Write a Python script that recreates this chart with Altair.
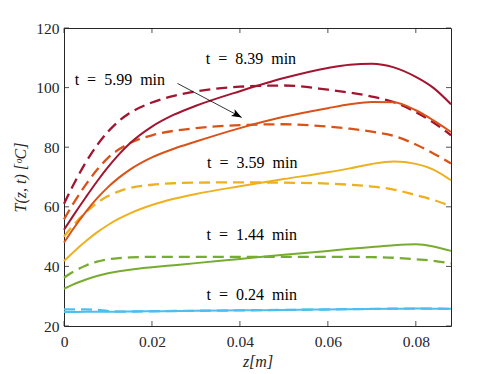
import altair as alt
import pandas as pd

# ---------------- data ----------------
Z = [0, 0.002, 0.005, 0.0075, 0.01, 0.0125, 0.015, 0.02, 0.025, 0.03, 0.04,
     0.05, 0.06, 0.065, 0.07, 0.075, 0.08, 0.084, 0.088]

SERIES = ["0.24", "1.44", "3.59", "5.99", "8.39"]
COLORS = ["#4DBEEE", "#77AC30", "#EDB120", "#D95319", "#A2142F"]

SOLID_024 = [24.7, 24.72, 24.75, 24.78, 24.8, 24.83, 24.86, 24.95, 25.03, 25.1,
             25.25, 25.4, 25.55, 25.65, 25.72, 25.8, 25.85, 25.82, 25.75]
DASHED_024 = [25.6, 25.6, 25.55, 25.4, 25.0, 24.83, 24.86, 24.95, 25.03, 25.1,
              25.25, 25.4, 25.55, 25.65, 25.72, 25.8, 25.85, 25.82, 25.75]

SOLID_144 = [32.5, 33.9, 35.6, 36.8, 37.7, 38.4, 38.9, 39.7, 40.4, 41.1,
             42.5, 43.9, 45.2, 45.9, 46.5, 47.1, 47.4, 46.7, 45.2]
DASHED_144 = [36.2, 38.1, 40.3, 41.6, 42.4, 42.8, 43.0, 43.2, 43.2, 43.2,
              43.2, 43.2, 43.2, 43.2, 43.1, 42.9, 42.4, 41.9, 41.0]

SOLID_359 = [41.8, 44.6, 48.5, 51.4, 53.9, 56.0, 57.8, 60.6, 62.7, 64.3,
             66.9, 69.3, 71.6, 72.9, 74.4, 75.2, 74.4, 72.5, 68.9]
DASHED_359 = [50.0, 53.6, 58.2, 61.3, 63.6, 65.2, 66.3, 67.4, 67.9, 68.1,
              68.2, 68.1, 67.8, 67.4, 66.8, 65.8, 63.9, 62.3, 60.2]

SOLID_599 = [48.0, 52.4, 58.4, 62.8, 66.6, 69.8, 72.5, 76.6, 79.5, 81.9,
             86.4, 90.2, 93.1, 94.4, 95.2, 95.1, 92.4, 89.0, 85.1]
DASHED_599 = [55.8, 60.8, 67.5, 72.4, 76.4, 79.3, 81.4, 84.0, 85.5, 86.4,
              87.4, 87.7, 86.9, 86.2, 85.2, 83.8, 80.9, 77.9, 74.5]

SOLID_839 = [52.3, 56.8, 63.3, 68.5, 73.3, 77.6, 81.3, 86.9, 90.9, 93.9,
             98.8, 103.2, 106.6, 107.7, 108.0, 106.8, 103.6, 99.9, 94.4]
DASHED_839 = [61.0, 67.0, 75.0, 80.6, 85.2, 88.8, 91.5, 95.0, 97.2, 98.7,
              100.3, 100.7, 99.3, 98.3, 97.0, 95.1, 91.8, 88.3, 84.0]

LABEL_TEXT = ["t = 8.39 min", "t = 5.99 min", "t = 3.59 min",
              "t = 1.44 min", "t = 0.24 min"]
LABEL_Z = [0.0425, 0.0127, 0.0428, 0.0427, 0.0427]
LABEL_T = [109.5, 102.7, 74.6, 50.4, 30.3]

ARROW_Z = [0.0258, 0.0404]
ARROW_T = [101.4, 90.0]

X_TICKS = [0, 0.02, 0.04, 0.06, 0.08]
Y_TICKS = [20, 40, 60, 80, 100, 120]

# ---------------- tables ----------------
solid = {"0.24": SOLID_024, "1.44": SOLID_144, "3.59": SOLID_359,
         "5.99": SOLID_599, "8.39": SOLID_839}
dashed = {"0.24": DASHED_024, "1.44": DASHED_144, "3.59": DASHED_359,
          "5.99": DASHED_599, "8.39": DASHED_839}

rows_s, rows_d = [], []
for s in SERIES:
    for z, t in zip(Z, solid[s]):
        rows_s.append({"z": z, "T": t, "series": s})
    for z, t in zip(Z, dashed[s]):
        rows_d.append({"z": z, "T": t, "series": s})
df_s = pd.DataFrame(rows_s)
df_d = pd.DataFrame(rows_d)

sp = "\u2002"
df_lab = pd.DataFrame({"label": [l.replace(" ", sp) for l in LABEL_TEXT],
                       "z": LABEL_Z, "T": LABEL_T})
df_arrow = pd.DataFrame({"z": ARROW_Z, "T": ARROW_T})
df_xt = pd.DataFrame({"v": X_TICKS})
df_yt = pd.DataFrame({"v": Y_TICKS})

# ---------------- chart ----------------
FONT = "Liberation Serif"
W, H = 387, 298
AX = "#262626"

xscale = alt.Scale(domain=[0, 0.088], nice=False, zero=False)
yscale = alt.Scale(domain=[20, 120], nice=False, zero=False)

X_AXIS = alt.Axis(title="z[m]", values=X_TICKS, format="~g", ticks=False,
                  tickSize=0, domain=False, grid=False, labelPadding=8,
                  titlePadding=4, titleFontStyle="italic",
                  titleFontWeight="normal", labelFlush=False,
                  labelOverlap=False)
Y_AXIS = alt.Axis(title="T(z, t) [\u1d52C]", values=Y_TICKS, ticks=False,
                  tickSize=0, domain=False, grid=False, labelPadding=5,
                  titlePadding=7, titleFontStyle="italic",
                  titleFontWeight="normal", labelFlush=False,
                  labelOverlap=False)

color = alt.Color("series:N", scale=alt.Scale(domain=SERIES, range=COLORS),
                  legend=None)

x_enc = alt.X("z:Q", scale=xscale, axis=X_AXIS)
y_enc = alt.Y("T:Q", scale=yscale, axis=Y_AXIS)

dashed_layer = alt.Chart(df_d).mark_line(
    strokeWidth=2.3, strokeDash=[11, 6], interpolate="monotone"
).encode(x=x_enc, y=y_enc, color=color, detail="series:N")

solid_layer = alt.Chart(df_s).mark_line(
    strokeWidth=2, interpolate="monotone"
).encode(x=x_enc, y=y_enc, color=color, detail="series:N")

text_layer = alt.Chart(df_lab).mark_text(
    font=FONT, fontSize=16, color="black", align="center", baseline="middle"
).encode(x=x_enc, y=y_enc, text="label:N")

arrow_line = alt.Chart(df_arrow).mark_line(
    color="black", strokeWidth=0.8
).encode(x=x_enc, y=y_enc)

HEAD = "M0,0 L-1,-0.38 L-0.78,0 L-1,0.38 Z"
arrow_head = alt.Chart(df_arrow.iloc[[1]]).mark_point(
    shape=HEAD, filled=True, color="black", size=400, angle=28, opacity=1,
    strokeWidth=0
).encode(x=x_enc, y=y_enc)

xt_enc = alt.X("v:Q", scale=xscale, axis=X_AXIS)
yt_enc = alt.Y("v:Q", scale=yscale, axis=Y_AXIS)
tick_style = dict(color=AX, strokeWidth=0.8)
ticks_bottom = alt.Chart(df_xt).mark_rule(**tick_style).encode(
    x=xt_enc, y=alt.value(H), y2=alt.value(H - 5))
ticks_top = alt.Chart(df_xt).mark_rule(**tick_style).encode(
    x=xt_enc, y=alt.value(0), y2=alt.value(5))
ticks_left = alt.Chart(df_yt).mark_rule(**tick_style).encode(
    y=yt_enc, x=alt.value(0), x2=alt.value(5))
ticks_right = alt.Chart(df_yt).mark_rule(**tick_style).encode(
    y=yt_enc, x=alt.value(W - 5), x2=alt.value(W))

chart = alt.layer(
    dashed_layer, solid_layer, arrow_line, arrow_head, text_layer,
    ticks_bottom, ticks_top, ticks_left, ticks_right
).properties(
    width=W, height=H,
    autosize=alt.AutoSizeParams(type="none"),
    padding={"left": 56, "top": 20, "right": 30, "bottom": 46},
).configure_view(
    stroke=AX, strokeWidth=1
).configure_axis(
    labelFont=FONT, labelFontSize=15.5, labelColor=AX,
    titleFont=FONT, titleFontSize=16, titleColor=AX
)

chart.save("out.html", embed_options={"renderer": "svg", "actions": False})
